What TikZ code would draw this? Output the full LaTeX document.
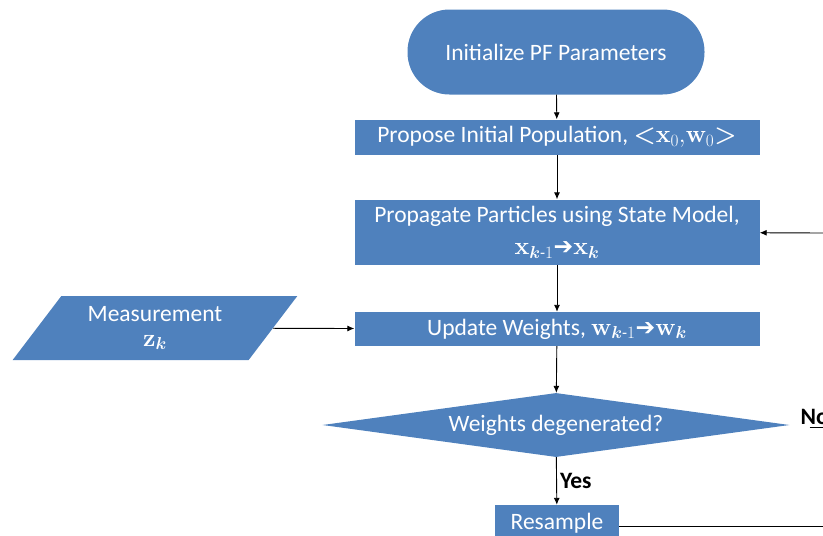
\documentclass[tikz,border=0pt]{standalone}
\usepackage{amsmath,amssymb,bm}
\usepackage[no-math]{fontspec}
\setmainfont{Carlito}
\newfontfamily\arrowfont{DejaVu Sans}
\usetikzlibrary{positioning,arrows.meta,shapes.geometric}

\newcommand{\thickto}{{\arrowfont\bfseries\char"2794}}

\begin{document}
\begin{tikzpicture}[x=1pt,y=-1pt,
  box/.style={fill=pfblue,text=white,inner sep=0pt,font=\fontsize{23.5}{28}\selectfont},
  arr/.style={-{Latex[length=7pt,width=6pt]},line width=0.9pt}]
\definecolor{pfblue}{HTML}{4F81BD}
\useasboundingbox (0,0) rectangle (823,536);
\node[box,rounded corners=42pt,minimum width=297pt,minimum height=85pt] (init) at (556,52)
  {Initialize PF Parameters};
\node[box,minimum width=405pt,minimum height=35pt] (prop) at (557,137)
  {Propose Initial Population, $\mathopen{\bm{<}}\mathbf{x}_0{,}\mathbf{w}_0\mathclose{\bm{>}}$};
\node[box,minimum width=405pt,minimum height=65pt,align=center] (part) at (557,232)
  {Propagate Particles using State Model,\\[4pt]
   $\mathbf{x}_{\bm{k}\text{-}1}$\thickto$\mathbf{x}_{\bm{k}}$};
\node[box,minimum width=405pt,minimum height=34pt] (upd) at (557,329)
  {Update Weights, $\mathbf{w}_{\bm{k}\text{-}1}$\thickto$\mathbf{w}_{\bm{k}}$};
\node[box,shape=trapezium,trapezium left angle=51.4,trapezium right angle=128.6,
  trapezium stretches=true,minimum width=285pt,minimum height=64pt,align=center] (meas) at (155,328)
  {Measurement\\[-3pt] $\mathbf{z}_{\bm{k}}$};
\node[box,shape=diamond,aspect=7.3,minimum width=467pt,minimum height=64pt] (deg) at (556,425)
  {Weights degenerated?};
\node[box,minimum width=124pt,minimum height=36pt] (res) at (557,523)
  {Resample};
\coordinate (backin) at (824,233);
\coordinate (noout) at (824,427);
\coordinate (resout) at (824,526);
\draw[arr] (init) -- (prop);
\draw[arr] (prop) -- (part);
\draw[arr] (part) -- (upd);
\draw[arr] (upd) -- (deg);
\draw[arr] (meas) -- (upd);
\draw[arr] (deg) -- node[right,font=\fontsize{23.5}{28}\selectfont\bfseries,inner sep=3pt]{Yes} (res);
\draw[arr] (backin) -- (part);
\draw[line width=0.9pt,shorten <=20pt] (deg.east |- noout) -- node[font=\fontsize{23.5}{28}\selectfont\bfseries,inner sep=2pt,pos=0.25,anchor=south west]{No} (noout);
\draw[line width=0.9pt] (res.east |- resout) -- (resout);
\end{tikzpicture}
\end{document}
